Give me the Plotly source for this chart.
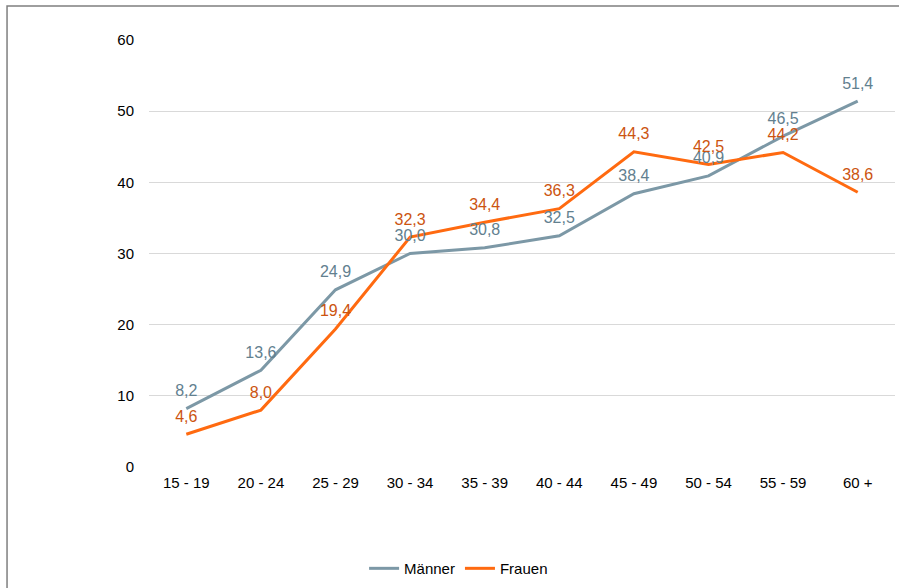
import plotly.graph_objects as go

# Altersgruppen und Werte
altersgruppen = ["15 - 19", "20 - 24", "25 - 29", "30 - 34", "35 - 39",
                 "40 - 44", "45 - 49", "50 - 54", "55 - 59", "60 +"]
maenner = [8.2, 13.6, 24.9, 30.0, 30.8, 32.5, 38.4, 40.9, 46.5, 51.4]
frauen = [4.6, 8.0, 19.4, 32.3, 34.4, 36.3, 44.3, 42.5, 44.2, 38.6]
y_ticks = [0, 10, 20, 30, 40, 50, 60]


def fmt(v):
    # deutsches Dezimalkomma
    return f"{v:.1f}".replace(".", ",")


fig = go.Figure()

# Linien (mit Legende)
fig.add_trace(go.Scatter(
    x=altersgruppen, y=maenner, name="Männer",
    mode="lines", line=dict(color="#7C98A6", width=3),
))
fig.add_trace(go.Scatter(
    x=altersgruppen, y=frauen, name="Frauen",
    mode="lines", line=dict(color="#FF6A10", width=3),
))

# Datenbeschriftungen (unsichtbare Marker als Abstand)
fig.add_trace(go.Scatter(
    x=altersgruppen, y=maenner, showlegend=False,
    mode="markers+text", marker=dict(size=12, opacity=0),
    text=[fmt(v) for v in maenner], textposition="top center",
    textfont=dict(color="#62808F", size=16),
    cliponaxis=False, hoverinfo="skip",
))
fig.add_trace(go.Scatter(
    x=altersgruppen, y=frauen, showlegend=False,
    mode="markers+text", marker=dict(size=12, opacity=0),
    text=[fmt(v) for v in frauen], textposition="top center",
    textfont=dict(color="#CC5410", size=16),
    cliponaxis=False, hoverinfo="skip",
))

# Rahmen um das Diagramm
fig.add_shape(type="rect", xref="paper", yref="paper",
              x0=-0.1903, x1=1.02, y0=-0.32, y1=1.0794,
              line=dict(color="#7F7F7F", width=1.5), layer="below")

fig.update_layout(
    width=899, height=588,
    margin=dict(l=149, r=4, t=40, b=120),
    paper_bgcolor="white",
    plot_bgcolor="white",
    font=dict(family="Liberation Sans, Arial, sans-serif", size=15, color="#000000"),
    xaxis=dict(
        type="category",
        range=[-0.5, 9.5],
        showgrid=False,
        showline=False,
        zeroline=False,
        ticks="",
        tickfont=dict(size=15),
        ticklabelstandoff=5,
    ),
    yaxis=dict(
        range=[0, 60],
        tickvals=y_ticks,
        showgrid=True,
        gridcolor="#D9D9D9",
        gridwidth=1,
        zeroline=False,
        showline=False,
        ticks="",
        tickfont=dict(size=15),
        ticklabelstandoff=14,
    ),
    legend=dict(
        orientation="h",
        x=0.415, xanchor="center",
        y=-0.235, yanchor="middle",
        font=dict(size=15),
        itemwidth=30,
        bgcolor="rgba(0,0,0,0)",
    ),
)

fig.write_html("out.html", config={"displayModeBar": False},
               post_script="document.body.style.margin='0';")
